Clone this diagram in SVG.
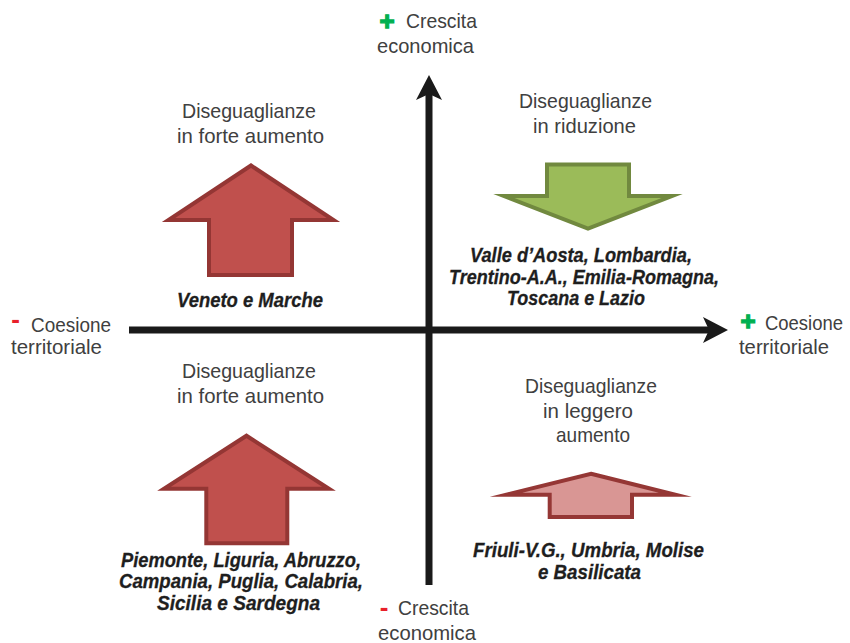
<svg xmlns="http://www.w3.org/2000/svg" width="850" height="643" viewBox="0 0 850 643">
<style>
.lbl{font-family:"Liberation Sans",Arial,sans-serif;font-size:21px;fill:#404040}
.reg{font-family:"Liberation Sans Narrow","Liberation Sans",Arial,sans-serif;font-size:20px;font-weight:bold;font-style:italic;fill:#1e1e1e;stroke:#1e1e1e;stroke-width:0.3}
.plus{font-family:"Liberation Sans",Arial,sans-serif;font-size:26px;font-weight:bold;fill:#00B050;stroke:#00B050;stroke-width:1.3}
.minus{font-family:"Liberation Sans",Arial,sans-serif;font-size:26px;font-weight:bold;fill:#E8202A}
.arr{stroke-width:4;stroke-linejoin:miter;stroke-miterlimit:10}
.red{fill:#C0504D;stroke:#943634}
.green{fill:#9BBB59;stroke:#71893F}
.pink{fill:#D99694;stroke:#953735}
.axis{stroke:#1a1a1a;stroke-width:7;fill:none}
</style>
<defs>
<marker id="head" markerUnits="userSpaceOnUse" viewBox="-10 -14 28 28" markerWidth="28" markerHeight="28" refX="0" refY="0" orient="auto" overflow="visible">
<path d="M16,0 L-9,-13 L-3,0 L-9,13 Z" fill="#1a1a1a"/>
</marker>
</defs>
<rect width="850" height="643" fill="#ffffff"/>

<g id="connectors">
<line class="axis" x1="129" y1="330" x2="712" y2="330" marker-end="url(#head)"/>
<line class="axis" x1="429" y1="585" x2="429" y2="91" marker-end="url(#head)"/>
</g>

<g id="axis-top">
<text class="plus" x="387" y="30" text-anchor="middle">+</text>
<text class="lbl" x="406" y="28" textLength="71" lengthAdjust="spacingAndGlyphs">Crescita</text>
<text class="lbl" x="377" y="53" textLength="97" lengthAdjust="spacingAndGlyphs">economica</text>
</g>
<g id="axis-bottom">
<text class="minus" x="384" y="615.5" text-anchor="middle">-</text>
<text class="lbl" x="398" y="615" textLength="71" lengthAdjust="spacingAndGlyphs">Crescita</text>
<text class="lbl" x="378" y="640" textLength="98" lengthAdjust="spacingAndGlyphs">economica</text>
</g>
<g id="axis-left">
<text class="minus" x="15.5" y="327.5" text-anchor="middle">-</text>
<text class="lbl" x="31" y="331.5" textLength="80" lengthAdjust="spacingAndGlyphs">Coesione</text>
<text class="lbl" x="11" y="354" textLength="91" lengthAdjust="spacingAndGlyphs">territoriale</text>
</g>
<g id="axis-right">
<text class="plus" x="748" y="330" text-anchor="middle">+</text>
<text class="lbl" x="765" y="330" style="font-size:19.5px" textLength="78" lengthAdjust="spacingAndGlyphs">Coesione</text>
<text class="lbl" x="739" y="354" textLength="90" lengthAdjust="spacingAndGlyphs">territoriale</text>
</g>

<g id="q-upper-left">
<text class="lbl" x="182" y="117.5" textLength="134" lengthAdjust="spacingAndGlyphs">Diseguaglianze</text>
<text class="lbl" x="177" y="142.5" textLength="147" lengthAdjust="spacingAndGlyphs">in forte aumento</text>
<polygon class="arr red" points="251,165.5 333.5,220 292,220 292,275 209,275 209,220 168.5,220"/>
<text class="reg" x="177" y="306.5" textLength="146" lengthAdjust="spacingAndGlyphs">Veneto e Marche</text>
</g>

<g id="q-upper-right">
<text class="lbl" x="519" y="107.5" textLength="133" lengthAdjust="spacingAndGlyphs">Diseguaglianze</text>
<text class="lbl" x="533" y="132.5" textLength="103" lengthAdjust="spacingAndGlyphs">in riduzione</text>
<polygon class="arr green" points="547,164.5 629,164.5 629,196 672,196 588,228.5 504,196 547,196"/>
<text class="reg" x="470" y="261.5" textLength="222" lengthAdjust="spacingAndGlyphs">Valle d’Aosta, Lombardia,</text>
<text class="reg" x="449" y="283.5" textLength="270" lengthAdjust="spacingAndGlyphs">Trentino-A.A., Emilia-Romagna,</text>
<text class="reg" x="507" y="305" textLength="138" lengthAdjust="spacingAndGlyphs">Toscana e Lazio</text>
</g>

<g id="q-lower-left">
<text class="lbl" x="182" y="377.5" textLength="134" lengthAdjust="spacingAndGlyphs">Diseguaglianze</text>
<text class="lbl" x="177" y="402.5" textLength="147" lengthAdjust="spacingAndGlyphs">in forte aumento</text>
<polygon class="arr red" points="246.5,435.7 329,488.7 287.3,488.7 287.3,543.3 206.3,543.3 206.3,488.7 164,488.7"/>
<text class="reg" x="121" y="566.5" textLength="240" lengthAdjust="spacingAndGlyphs">Piemonte, Liguria, Abruzzo,</text>
<text class="reg" x="119" y="588" textLength="244" lengthAdjust="spacingAndGlyphs">Campania, Puglia, Calabria,</text>
<text class="reg" x="157" y="609.5" textLength="163" lengthAdjust="spacingAndGlyphs">Sicilia e Sardegna</text>
</g>

<g id="q-lower-right">
<text class="lbl" x="525" y="393" textLength="132" lengthAdjust="spacingAndGlyphs">Diseguaglianze</text>
<text class="lbl" x="543" y="418" textLength="90" lengthAdjust="spacingAndGlyphs">in leggero</text>
<text class="lbl" x="556" y="442" textLength="74" lengthAdjust="spacingAndGlyphs">aumento</text>
<polygon class="arr pink" points="591,473.8 675.4,494.7 632,494.7 632,517 549.7,517 549.7,494.7 506.3,494.7"/>
<text class="reg" x="473" y="557" textLength="231" lengthAdjust="spacingAndGlyphs">Friuli-V.G., Umbria, Molise</text>
<text class="reg" x="538" y="579" textLength="103" lengthAdjust="spacingAndGlyphs">e Basilicata</text>
</g>
</svg>
